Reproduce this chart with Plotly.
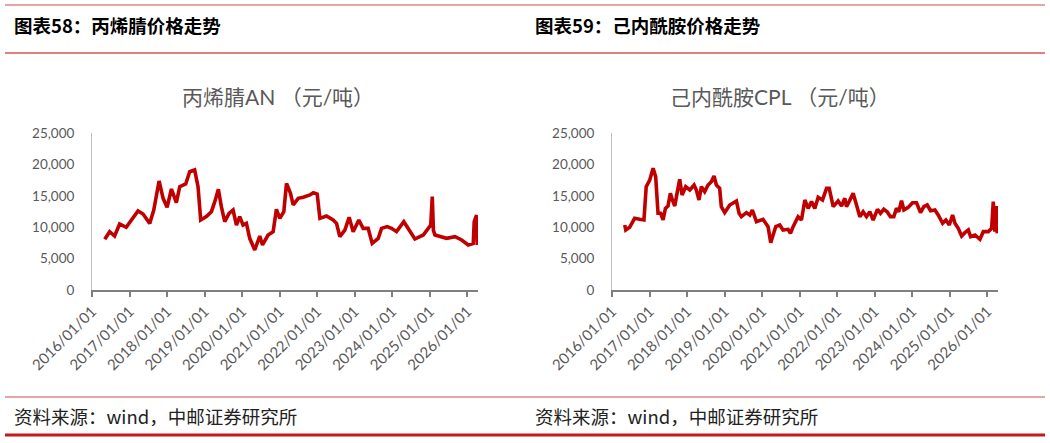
import plotly.graph_objects as go
import pandas as pd

# ---------------- data ----------------
an_dates = ["2016-05-04","2016-06-21","2016-08-08","2016-09-26","2016-11-29","2017-01-18","2017-03-24",
            "2017-05-12","2017-07-16","2017-08-24","2017-10-15","2017-11-23","2018-01-01","2018-02-12",
            "2018-04-01","2018-05-04","2018-07-01","2018-08-09","2018-09-26","2018-10-29","2018-11-24",
            "2019-01-18","2019-03-08","2019-04-10","2019-05-15","2019-06-13","2019-07-16","2019-08-27",
            "2019-10-05","2019-11-07","2019-12-09","2020-01-10","2020-02-12","2020-03-15","2020-05-03",
            "2020-06-21","2020-07-17","2020-09-10","2020-10-29","2020-11-30","2021-01-02","2021-02-10",
            "2021-03-08","2021-04-16","2021-05-12","2021-06-30","2021-08-18","2021-10-22","2021-11-24",
            "2022-01-01","2022-01-27","2022-04-01","2022-06-05","2022-07-08","2022-08-09","2022-09-27",
            "2022-11-08","2022-12-17","2023-02-10","2023-03-24","2023-05-12","2023-06-20","2023-08-18",
            "2023-09-19","2023-11-13","2023-12-25","2024-02-12","2024-04-23","2024-06-21","2024-08-09",
            "2024-10-29","2024-12-17","2025-01-10","2025-01-25","2025-02-05","2025-02-20","2025-04-26",
            "2025-06-13","2025-09-03","2025-11-07","2026-01-10","2026-02-28","2026-03-09","2026-04-01",
            "2026-04-08"]
an_values = [8070, 9290, 8600, 10500, 9980, 11150, 12580,
             12100, 10600, 12740, 17360, 14600, 13160, 16080,
             13900, 16450, 16880, 18840, 19110, 16450, 11150,
             11680, 12470, 14070, 16030, 13270, 10880, 12210,
             12740, 10350, 11680, 10350, 10600, 8230, 6370,
             8600, 7170, 8760, 9290, 12850, 11400, 12470,
             16990, 15390, 13540, 14600, 14760, 15130, 15500,
             15290, 11410, 11780, 11150, 10620, 8490, 9550,
             11570, 9290, 11150, 9820, 9820, 7430, 8230,
             9820, 10090, 9820, 9290, 10880, 9290, 8120,
             8760, 9820, 10350, 14860, 9500, 8760, 8390,
             8230, 8490, 7960, 7170, 7430, 10880, 11940,
             7170]

cpl_dates = ["2016-05-04","2016-05-14","2016-06-21","2016-08-08","2016-09-26","2016-11-07","2016-11-29",
             "2017-01-02","2017-02-04","2017-03-01","2017-03-24","2017-04-19","2017-05-12","2017-06-04",
             "2017-06-29","2017-07-22","2017-08-11","2017-09-03","2017-09-25","2017-10-21","2017-11-13",
             "2017-12-18","2018-01-27","2018-03-10","2018-04-01","2018-04-27","2018-05-20","2018-06-21",
             "2018-07-24","2018-08-25","2018-09-20","2018-10-13","2018-11-14","2018-11-30","2019-01-02",
             "2019-02-20","2019-04-26","2019-05-22","2019-06-13","2019-08-01","2019-09-03","2019-09-28",
             "2019-11-07","2020-01-10","2020-02-28","2020-03-25","2020-04-17","2020-05-13","2020-06-21",
             "2020-07-23","2020-09-10","2020-10-03","2020-10-29","2020-12-16","2021-01-18","2021-02-20",
             "2021-03-24","2021-04-26","2021-05-28","2021-06-30","2021-08-11","2021-09-19","2021-10-15",
             "2021-11-23","2022-01-10","2022-02-12","2022-03-16","2022-04-01","2022-04-27","2022-06-05",
             "2022-07-08","2022-08-09","2022-09-10","2022-10-13","2022-11-14","2022-12-17","2023-01-28",
             "2023-02-26","2023-03-30","2023-05-02","2023-06-03","2023-07-06","2023-08-01","2023-08-23",
             "2023-09-19","2023-10-12","2023-11-23","2024-01-04","2024-02-12","2024-03-22","2024-04-23",
             "2024-05-26","2024-06-28","2024-08-09","2024-09-10","2024-10-23","2024-11-24","2024-12-27",
             "2025-01-28","2025-02-20","2025-03-24","2025-04-26","2025-05-28","2025-06-30","2025-07-23",
             "2025-09-03","2025-10-21","2025-11-23","2026-01-10","2026-02-12","2026-02-28","2026-03-16",
             "2026-04-01","2026-04-08"]
cpl_values = [10350, 9550, 9980, 11410, 11250, 11150, 16450,
              17520, 19370, 18050, 12210, 12210, 11150, 13000,
              13380, 15390, 14330, 13380, 15390, 17620, 15130,
              16450, 15920, 16720, 15920, 14330, 16450, 15660,
              16720, 17250, 18150, 16720, 16190, 13270, 12320,
              13540, 14170, 12210, 11680, 12320, 11940, 12740,
              10880, 11250, 10090, 7540, 8760, 10090, 10350,
              9550, 9660, 9020, 10090, 11680, 11150, 14330,
              13000, 14070, 13000, 14760, 14330, 16190, 16190,
              13270, 14170, 13380, 14600, 13270, 14070, 15390,
              13540, 11680, 12470, 11680, 12470, 11150, 12850,
              12210, 12850, 12470, 11680, 11680, 13000, 12470,
              14220, 12740, 13160, 13900, 13900, 12320, 13270,
              13540, 12630, 12740, 11940, 10620, 11150, 10350,
              11940, 10620, 9820, 8600, 9130, 9550, 8490,
              8760, 8070, 9290, 9290, 9820, 14070, 9290,
              13380, 9020]

tick_vals = ["2016-01-01","2017-01-01","2018-01-01","2019-01-01","2020-01-01","2021-01-01",
             "2022-01-01","2023-01-01","2024-01-01","2025-01-01","2026-01-01"]
tick_text = ["2016/01/01","2017/01/01","2018/01/01","2019/01/01","2020/01/01","2021/01/01",
             "2022/01/01","2023/01/01","2024/01/01","2025/01/01","2026/01/01"]
y_ticks = [0, 5000, 10000, 15000, 20000, 25000]

header_left = "图表58：丙烯腈价格走势"
header_right = "图表59：己内酰胺价格走势"
title_left = "丙烯腈AN （元/吨）"
title_right = "己内酰胺CPL （元/吨）"
source_text = "资料来源：wind，中邮证券研究所"

# ---------------- figure ----------------
W, H = 1050, 443
RED = "#C00000"
GRAY = "#595959"
LAT = "Lato, 'Noto Sans CJK SC', sans-serif"
CJK = "'Noto Sans CJK SC', sans-serif"

fig = go.Figure()
fig.add_trace(go.Scatter(x=pd.to_datetime(an_dates), y=an_values, mode="lines",
                         line=dict(color=RED, width=3.6), xaxis="x", yaxis="y",
                         showlegend=False, hoverinfo="skip"))
fig.add_trace(go.Scatter(x=pd.to_datetime(cpl_dates), y=cpl_values, mode="lines",
                         line=dict(color=RED, width=3.6), xaxis="x2", yaxis="y2",
                         showlegend=False, hoverinfo="skip"))

def px(x):
    return x / W

def py(y):
    return 1 - y / H

xr = ["2016-01-01", "2026-04-15"]
common_x = dict(type="date", range=xr, tickvals=tick_vals, ticktext=tick_text, tickangle=-45,
                showgrid=False, zeroline=False, showline=True, linecolor="#7F7F7F", linewidth=1.5,
                ticks="outside", ticklen=5, tickcolor="#7F7F7F", tickwidth=1.5, automargin=False,
                tickfont=dict(family=LAT, size=15, color=GRAY), fixedrange=True)
common_y = dict(range=[0, 25000], tickvals=y_ticks, tickformat=",", showgrid=False,
                zeroline=False, showline=True, linecolor="#BFBFBF", linewidth=1, automargin=False,
                ticks="", tickfont=dict(family=LAT, size=13.5, color=GRAY), fixedrange=True)

y_dom = [py(290), py(133)]
fig.update_layout(
    width=W, height=H, margin=dict(l=0, r=0, t=0, b=0, autoexpand=False),
    paper_bgcolor="white", plot_bgcolor="white",
    xaxis=dict(domain=[px(92), px(478)], anchor="y", **common_x),
    yaxis=dict(domain=y_dom, anchor="x", ticklabelstandoff=14, **common_y),
    xaxis2=dict(domain=[px(612), px(998)], anchor="y2", **common_x),
    yaxis2=dict(domain=y_dom, anchor="x2", ticklabelstandoff=14, **common_y),
)

shapes = []
shapes.append(dict(type="line", xref="paper", yref="paper", x0=px(5), x1=px(1045), y0=py(5), y1=py(5),
                   line=dict(color="#C0504D", width=1.2)))
shapes.append(dict(type="line", xref="paper", yref="paper", x0=px(5), x1=px(1045), y0=py(53), y1=py(53),
                   line=dict(color="#E08080", width=2)))
shapes.append(dict(type="line", xref="paper", yref="paper", x0=px(5), x1=px(1045), y0=py(397), y1=py(397),
                   line=dict(color="#C0504D", width=1.2)))
shapes.append(dict(type="line", xref="paper", yref="paper", x0=px(5), x1=px(1045), y0=py(435), y1=py(435),
                   line=dict(color="#C8161D", width=3)))
fig.update_layout(shapes=shapes)

ann = []
for txt, x in ((header_left, 12), (header_right, 533)):
    ann.append(dict(text="<b>" + txt + "</b>", x=px(x), y=py(25), xref="paper", yref="paper",
                    xanchor="left", yanchor="middle", showarrow=False,
                    font=dict(family=CJK, size=18.5, color="black")))
for txt, x in ((title_left, 278), (title_right, 780)):
    ann.append(dict(text=txt, x=px(x), y=py(96), xref="paper", yref="paper",
                    xanchor="center", yanchor="middle", showarrow=False,
                    font=dict(family=LAT, size=21, color=GRAY)))
for x in (12, 533):
    ann.append(dict(text=source_text, x=px(x), y=py(416), xref="paper", yref="paper",
                    xanchor="left", yanchor="middle", showarrow=False,
                    font=dict(family=CJK, size=18.5, color="#222222")))
fig.update_layout(annotations=ann)

fig.write_html("out.html")
